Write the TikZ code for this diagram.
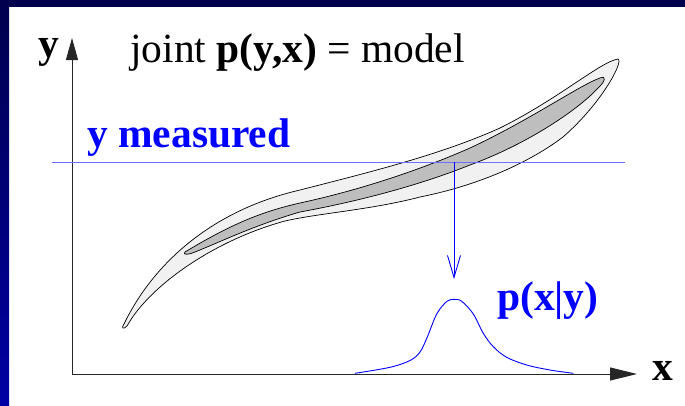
\documentclass[tikz,border=0pt]{standalone}
\usepackage{fontspec}
\setmainfont{Liberation Serif}
\usetikzlibrary{arrows.meta}
\definecolor{framedark}{HTML}{00004D}
\definecolor{framelight}{HTML}{0000A4}
\definecolor{outerfill}{HTML}{F1F1F1}
\definecolor{innerfill}{HTML}{BEBEBE}
\definecolor{meas}{HTML}{0000FF}
\definecolor{measline}{HTML}{6E6EFF}
\begin{document}
\begin{tikzpicture}[x=1pt,y=-1pt,
  axisline/.style={line width=0.9pt, draw=black!85},
  region/.style={line width=0.7pt, draw=black},
  lbl/.style={inner sep=0pt, anchor=base west, font=\fontsize{41.5}{48}\selectfont},
  boldlbl/.style={lbl, font=\fontsize{41.5}{48}\selectfont\bfseries},
  bluelbl/.style={boldlbl, text=meas},
  bluepen/.style={draw=meas, line width=0.9pt}]
\useasboundingbox (0,0) rectangle (685,405);
% frame
\fill[white] (0,0) rectangle (685,405);
\fill[framedark] (0,0) rectangle (685,7);
\shade[top color=framedark, bottom color=framelight] (0,0) rectangle (9,405);
% outer region
\filldraw[region, fill=outerfill]
 (124,324) .. controls (150,270) and (205,212) .. (300,190)
 .. controls (370,172) and (440,155) .. (500,128)
 .. controls (560,98) and (600,62) .. (618,59)
 .. controls (624,61) and (602,103) .. (563,137)
 .. controls (530,162) and (480,185) .. (420,197)
 .. controls (370,210) and (320,213) .. (285,221)
 .. controls (215,240) and (150,285) .. (127,326)
 .. controls (123,330) and (121,328) .. cycle;
% inner region
\filldraw[region, fill=innerfill]
 (185,252) .. controls (230,225) and (260,212) .. (300,203)
 .. controls (360,190) and (420,170) .. (470,148)
 .. controls (530,120) and (580,85) .. (600,78)
 .. controls (607,75) and (605,82) .. (598,88)
 .. controls (580,108) and (530,143) .. (470,165)
 .. controls (420,185) and (360,201) .. (300,212)
 .. controls (255,225) and (220,242) .. (195,252)
 .. controls (189,255) and (182,255) .. cycle;
% axes
\coordinate (O) at (72,374);
\coordinate (ytip) at (72,38);
\coordinate (xtip) at (637,374);
\draw[axisline, -{Triangle[length=22pt,width=12pt]}] (O) -- (ytip);
\draw[axisline, -{Triangle[length=27pt,width=13pt]}] (O) -- (xtip);
% measured line
\coordinate (ml) at (52,162);
\coordinate (mr) at (625,162);
\coordinate (mx) at (454,162);
\coordinate (mt) at (454,279);
\draw[draw=measline, line width=1pt] (ml) -- (mr);
\draw[bluepen, -{Straight Barb[length=22pt,width=13pt]}] (mx) -- (mt);
% conditional density
\draw[bluepen] plot[smooth, tension=0.55] coordinates {
 (355,373.3) (390,367.3) (410,360.5) (420,352) (427.3,337) (436.7,314)
 (446.7,301.5) (454.3,299.3) (462,301.5) (473.3,314) (483.3,333.3)
 (493.3,346.7) (506.7,357.3) (526.7,365) (550,370) (573.3,373.3)};
% labels
\node[boldlbl] (ylabel) at (38,57) {y};
\node[lbl] (title) at (130,62) {joint~\textbf{p(y,x)} = model};
\node[bluelbl] (measured) at (87,147) {y measured};
\node[bluelbl] (cond) at (497,310) {p(x|y)};
\node[boldlbl] (xlabel) at (652,380) {x};
\end{tikzpicture}
\end{document}
